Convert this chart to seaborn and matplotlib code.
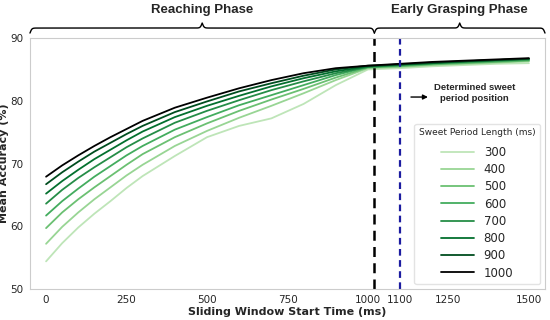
import numpy as np
import pandas as pd
import matplotlib
matplotlib.use("Agg")
import matplotlib.pyplot as plt
import seaborn as sns

# Startzeiten des gleitenden Fensters (ms)
start_times = [0, 50, 100, 150, 200, 250, 300, 400, 500, 600, 700, 800, 900, 1000,
               1100, 1200, 1300, 1400, 1500]

# Mittlere Genauigkeit (%) je Sweet-Period-Länge
acc_300 = [54.4, 57.3, 59.8, 62.0, 64.0, 66.1, 68.0, 71.2, 74.2, 76.0, 77.2, 79.5, 82.5, 85.0,
           85.2, 85.5, 85.7, 85.9, 86.0]
acc_400 = [57.2, 59.9, 62.2, 64.3, 66.2, 68.1, 69.8, 72.8, 75.2, 77.3, 79.2, 81.2, 83.3, 85.2,
           85.4, 85.7, 85.9, 86.1, 86.3]
acc_500 = [59.7, 62.2, 64.3, 66.2, 68.0, 69.8, 71.5, 74.2, 76.4, 78.4, 80.2, 81.9, 83.7, 85.3,
           85.5, 85.8, 86.0, 86.2, 86.4]
acc_600 = [61.7, 64.0, 66.0, 67.9, 69.6, 71.3, 72.8, 75.4, 77.4, 79.3, 80.9, 82.5, 84.1, 85.4,
           85.6, 85.9, 86.1, 86.3, 86.5]
acc_700 = [63.6, 65.8, 67.7, 69.4, 71.0, 72.6, 74.0, 76.5, 78.4, 80.1, 81.7, 83.1, 84.4, 85.4,
           85.7, 86.0, 86.2, 86.4, 86.6]
acc_800 = [65.2, 67.2, 69.0, 70.7, 72.2, 73.7, 75.1, 77.4, 79.2, 80.8, 82.3, 83.6, 84.7, 85.5,
           85.8, 86.0, 86.3, 86.5, 86.7]
acc_900 = [66.7, 68.6, 70.3, 71.9, 73.3, 74.7, 76.0, 78.2, 79.9, 81.5, 82.8, 84.0, 85.0, 85.6,
           85.8, 86.1, 86.3, 86.5, 86.7]
acc_1000 = [67.9, 69.7, 71.3, 72.8, 74.2, 75.5, 76.8, 78.9, 80.5, 82.0, 83.3, 84.4, 85.2, 85.6,
            85.9, 86.2, 86.4, 86.6, 86.8]

lengths = ['300', '400', '500', '600', '700', '800', '900', '1000']
series = [acc_300, acc_400, acc_500, acc_600, acc_700, acc_800, acc_900, acc_1000]

phase_boundary = 1020
sweet_position = 1100

rows = []
for length, values in zip(lengths, series):
    for t, v in zip(start_times, values):
        rows.append({'start': t, 'acc': v, 'length': length})
df = pd.DataFrame(rows)

sns.set_style("white")
plt.rcParams['font.family'] = ['DejaVu Sans']

cmap = plt.get_cmap('Greens')
colors = [cmap(v) for v in [0.28, 0.4, 0.52, 0.62, 0.74, 0.86, 0.97]] + ['black']

fig = plt.figure(figsize=(5.5, 3.2), dpi=100)
ax = fig.add_axes([0.0545, 0.097, 0.9364, 0.784])

sns.lineplot(data=df, x='start', y='acc', hue='length', hue_order=lengths,
             palette=colors, linewidth=1.3, ax=ax)

ax.axvline(phase_boundary, color='black', ls=(0, (4, 2.5)), lw=1.8)
ax.axvline(sweet_position, color='#1c1ca0', ls=(0, (3, 2)), lw=1.6)

ax.set_xlim(-50, 1550)
ax.set_ylim(50, 90)
ax.set_xticks([0, 250, 500, 750, 1000, 1100, 1250, 1500])
ax.set_yticks([50, 60, 70, 80, 90])
ax.tick_params(labelsize=7.5, pad=1)
for s in ax.spines.values():
    s.set_color('#cccccc')

ax.set_xlabel('Sliding Window Start Time (ms)', fontweight='bold', fontsize=8, labelpad=1)
ax.set_ylabel('Mean Accuracy (%)', fontweight='bold', fontsize=8, labelpad=1)

# Legende
handles, labels = ax.get_legend_handles_labels()
leg = ax.legend(handles, labels, title='Sweet Period Length (ms)', loc='lower right',
                fontsize=8.5, title_fontsize=6.5, handlelength=2.8, labelspacing=0.36,
                borderaxespad=0.4, frameon=True)
leg.get_frame().set_edgecolor('#dddddd')
leg._legend_box.sep = 6

# Pfeil und Hinweistext
ax.annotate('', xy=(1195, 80.6), xytext=(1125, 80.6),
            arrowprops=dict(arrowstyle='-|>', color='black', lw=1, mutation_scale=7))
ax.text(1332, 81.2, 'Determined sweet\nperiod position', ha='center', va='center',
        fontweight='bold', fontsize=6.8, family='Liberation Sans', linespacing=1.3)


def brace(ax, x0, x1, label):
    trans = ax.get_xaxis_transform()
    x = np.linspace(x0, x1, 601)
    half = x[:301]
    beta = 0.35
    y_half = 1 / (1 + np.exp(-beta * (half - half[0]))) + 1 / (1 + np.exp(-beta * (half - half[-1])))
    y = np.concatenate((y_half, y_half[-2::-1]))
    y = 1.0 + 0.04 * y
    ax.plot(x, y, color='black', lw=1, transform=trans, clip_on=False)
    ax.text((x0 + x1) / 2, 1.11, label, transform=trans, ha='center', va='center',
            fontweight='bold', fontsize=9.5, family='Liberation Sans')


brace(ax, -50, phase_boundary, 'Reaching Phase')
brace(ax, phase_boundary, 1550, 'Early Grasping Phase')

fig.savefig('out.png', dpi=100)
